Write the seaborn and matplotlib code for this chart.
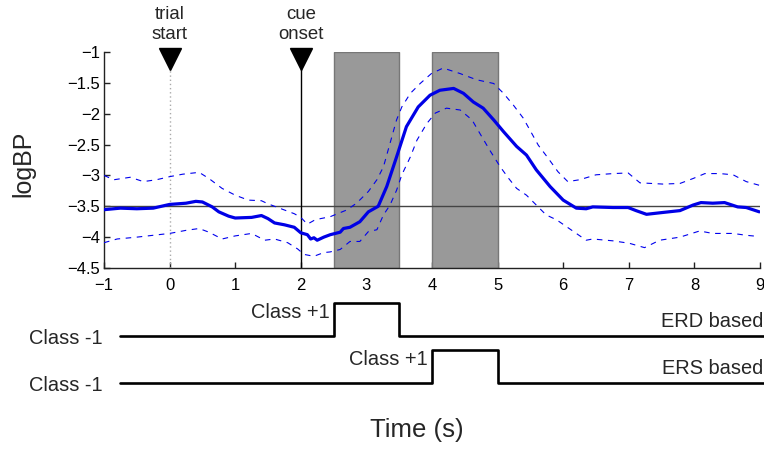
import matplotlib
matplotlib.use("Agg")
import matplotlib.pyplot as plt
import seaborn as sns
from matplotlib.ticker import FixedLocator, FixedFormatter

# --- band power of the selected channel (mean and confidence band) ---
mean_t = [-1, -0.75, -0.5, -0.25, 0, 0.25, 0.4, 0.5, 0.65, 0.75, 0.9, 1.0, 1.25, 1.4,
          1.5, 1.6, 1.75, 1.9, 2.0, 2.1, 2.15, 2.2, 2.25, 2.35, 2.45, 2.6, 2.65, 2.75,
          2.9, 3.03, 3.18, 3.31, 3.46, 3.61, 3.79, 3.97, 4.12, 4.33, 4.48, 4.63, 4.78,
          4.94, 5.09, 5.29, 5.44, 5.59, 5.80, 6.0, 6.2, 6.35, 6.45, 6.76, 6.99, 7.11,
          7.27, 7.52, 7.78, 7.98, 8.1, 8.28, 8.46, 8.66, 8.79, 8.99]
mean_logbp = [-3.555, -3.53, -3.54, -3.53, -3.47, -3.45, -3.42, -3.43, -3.51, -3.59,
              -3.66, -3.69, -3.68, -3.65, -3.70, -3.77, -3.80, -3.84, -3.93, -3.96,
              -4.03, -4.01, -4.05, -4.0, -3.96, -3.92, -3.86, -3.84, -3.75, -3.59,
              -3.50, -3.18, -2.70, -2.21, -1.89, -1.70, -1.62, -1.59, -1.67, -1.81,
              -1.91, -2.10, -2.29, -2.53, -2.67, -2.91, -3.18, -3.40, -3.53, -3.54,
              -3.51, -3.52, -3.52, -3.57, -3.63, -3.60, -3.57, -3.48, -3.44, -3.45,
              -3.44, -3.51, -3.52, -3.59]

upper_t = [-1, -0.85, -0.6, -0.4, -0.2, 0, 0.2, 0.45, 0.6, 0.8, 1.0, 1.2, 1.4, 1.5,
           1.7, 1.9, 2.0, 2.1, 2.2, 2.3, 2.445, 2.70, 2.85, 3.03, 3.16, 3.26, 3.36,
           3.46, 3.54, 3.67, 3.82, 3.99, 4.17, 4.43, 4.68, 4.94, 5.09, 5.24, 5.39,
           5.49, 5.62, 5.77, 5.92, 6.07, 6.25, 6.5, 6.76, 6.99, 7.17, 7.52, 7.78,
           7.98, 8.16, 8.39, 8.59, 8.79, 8.99]
upper_logbp = [-3.0, -3.07, -3.03, -3.10, -3.07, -3.02, -2.98, -2.95, -3.05, -3.21,
               -3.32, -3.40, -3.41, -3.46, -3.54, -3.62, -3.68, -3.79, -3.73, -3.70,
               -3.67, -3.56, -3.45, -3.26, -3.07, -2.86, -2.48, -2.10, -1.89, -1.67,
               -1.51, -1.35, -1.26, -1.35, -1.45, -1.51, -1.67, -1.86, -2.07, -2.26,
               -2.51, -2.72, -2.94, -3.10, -3.07, -2.99, -2.97, -2.96, -3.12, -3.14,
               -3.13, -3.05, -2.97, -2.97, -2.99, -3.10, -3.16]

lower_t = [-1, -0.8, -0.5, -0.25, 0, 0.25, 0.45, 0.6, 0.8, 1.0, 1.25, 1.45, 1.6, 1.8,
           1.95, 2.05, 2.2, 2.35, 2.445, 2.60, 2.75, 2.90, 3.03, 3.16, 3.26, 3.36,
           3.46, 3.54, 3.67, 3.77, 3.92, 4.05, 4.22, 4.43, 4.61, 4.73, 4.88, 5.04,
           5.17, 5.29, 5.44, 5.59, 5.74, 5.90, 6.05, 6.2, 6.35, 6.45, 6.76, 7.01,
           7.24, 7.47, 7.78, 8.08, 8.28, 8.59, 8.79, 8.99]
lower_logbp = [-4.09, -4.03, -4.0, -3.97, -3.94, -3.89, -3.86, -3.92, -4.03, -3.98,
               -3.94, -4.05, -4.03, -4.09, -4.19, -4.28, -4.31, -4.25, -4.24, -4.20,
               -4.07, -4.07, -3.91, -3.88, -3.64, -3.48, -3.24, -2.99, -2.70, -2.43,
               -2.16, -1.99, -1.91, -1.94, -2.10, -2.32, -2.59, -2.86, -3.05, -3.21,
               -3.32, -3.48, -3.64, -3.72, -3.83, -3.94, -4.05, -4.03, -4.06, -4.10,
               -4.17, -4.05, -4.0, -3.90, -3.94, -3.94, -3.97, -3.99]

baseline_logbp = -3.5
trial_start = 0.0
cue_onset = 2.0
erd_window = (2.5, 3.5)
ers_window = (4.0, 5.0)

xticks = [-1, 0, 1, 2, 3, 4, 5, 6, 7, 8, 9]
xtick_labels = ["\u22121", "0", "1", "2", "3", "4", "5", "6", "7", "8", "9"]
yticks = [-4.5, -4, -3.5, -3, -2.5, -2, -1.5, -1]
ytick_labels = ["\u22124.5", "\u22124", "\u22123.5", "\u22123", "\u22122.5",
                "\u22122", "\u22121.5", "\u22121"]

# --- label sequences for the two classifiers ---
erd_t = [-0.75, 2.5, 3.5, 9.1]
erd_class = [-1, 1, -1, -1]
ers_t = [-0.75, 4.0, 5.0, 9.1]
ers_class = [-1, 1, -1, -1]

sns.set_style("white")
plt.rcParams["font.family"] = ["Liberation Sans", "DejaVu Sans"]

W, H = 764, 450
fig = plt.figure(figsize=(W / 100, H / 100), dpi=100)

ax_l, ax_r, ax_t, ax_b = 104, 760, 52, 268
ax = fig.add_axes([ax_l / W, 1 - ax_b / H, (ax_r - ax_l) / W, (ax_b - ax_t) / H])
ax.set_xlim(-1, 9)
ax.set_ylim(-4.5, -1)

# analysis windows
for lo, hi in (erd_window, ers_window):
    ax.axvspan(lo, hi, facecolor="#999999", edgecolor="#777777", lw=1.0, zorder=1)

ax.axhline(baseline_logbp, color="#444444", lw=1.0, zorder=2)

dash = (0, (5, 5))
sns.lineplot(x=upper_t, y=upper_logbp, ax=ax, color="#0000ee", lw=0.8,
             linestyle=dash, zorder=3)
sns.lineplot(x=lower_t, y=lower_logbp, ax=ax, color="#0000ee", lw=0.8,
             linestyle=dash, zorder=3)
sns.lineplot(x=mean_t, y=mean_logbp, ax=ax, color="#0000e6", lw=2.3, zorder=4)

# event markers
marker_y = -1.11
ax.plot([trial_start, trial_start], [-4.5, -1.25], color="#aaaaaa", lw=1.0,
        ls=(0, (1, 2)), zorder=2)
ax.plot([cue_onset, cue_onset], [-4.5, -1.2], color="black", lw=1.0, zorder=2)
ax.plot([trial_start, cue_onset], [marker_y, marker_y], ls="none", marker="v",
        ms=16, color="black", clip_on=False, zorder=5)
ax.text(trial_start, -0.855, "trial\nstart", ha="center", va="bottom",
        fontsize=13.4, clip_on=False)
ax.text(cue_onset, -0.855, "cue\nonset", ha="center", va="bottom",
        fontsize=13.4, clip_on=False)

ax.xaxis.set_major_locator(FixedLocator(xticks))
ax.xaxis.set_major_formatter(FixedFormatter(xtick_labels))
ax.yaxis.set_major_locator(FixedLocator(yticks))
ax.yaxis.set_major_formatter(FixedFormatter(ytick_labels))
ax.tick_params(axis="both", direction="in", length=4, width=1, colors="#222222",
               labelcolor="black", labelsize=12)
ax.tick_params(axis="x", pad=7, bottom=True)
ax.tick_params(axis="y", pad=3, left=True)
for side in ("top", "right"):
    ax.spines[side].set_visible(False)
for side in ("left", "bottom"):
    ax.spines[side].set_color("#222222")
    ax.spines[side].set_linewidth(1.0)
ax.set_xlabel("")
ax.set_ylabel("")

fig.text(23 / W, 1 - 164 / H, "logBP", rotation=90, ha="center", va="center",
         fontsize=18)
fig.text(416.5 / W, 1 - 430 / H, "Time (s)", ha="center", va="center",
         fontsize=18.5)

# --- classifier label traces, sharing the time scale of the plot above ---
px_per_s = (ax_r - ax_l) / 10.0
row_top, row_bot = 290, 400
unit_px = 33.0
row_erd = 336.0
ax2 = fig.add_axes([0, 1 - row_bot / H, 1, (row_bot - row_top) / H])
ax2.set_xlim(-1 - ax_l / px_per_s, 9 + (W - ax_r) / px_per_s)
ax2.set_ylim((row_erd - row_bot) / unit_px, (row_erd - row_top) / unit_px)
ax2.axis("off")
ax2.patch.set_alpha(0)

ers_offset = -47.0 / unit_px
erd_level = [(c + 1) / 2 for c in erd_class]
ers_level = [(c + 1) / 2 + ers_offset for c in ers_class]
sns.lineplot(x=erd_t, y=erd_level, ax=ax2, color="black", lw=1.9,
             drawstyle="steps-post", sort=False)
sns.lineplot(x=ers_t, y=ers_level, ax=ax2, color="black", lw=1.9,
             drawstyle="steps-post", sort=False)

fs = 14.4
ax2.text(-1.02, -0.24, "Class -1", ha="right", va="baseline", fontsize=fs)
ax2.text(-1.02, -0.24 + ers_offset, "Class -1", ha="right", va="baseline", fontsize=fs)
ax2.text(2.44, 0.545, "Class +1", ha="right", va="baseline", fontsize=fs)
ax2.text(3.94, 0.545 + ers_offset, "Class +1", ha="right", va="baseline", fontsize=fs)
ax2.text(9.045, 0.27, "ERD based", ha="right", va="baseline", fontsize=fs)
ax2.text(9.045, 0.27 + ers_offset, "ERS based", ha="right", va="baseline", fontsize=fs)

fig.savefig("out.png", dpi=100)
